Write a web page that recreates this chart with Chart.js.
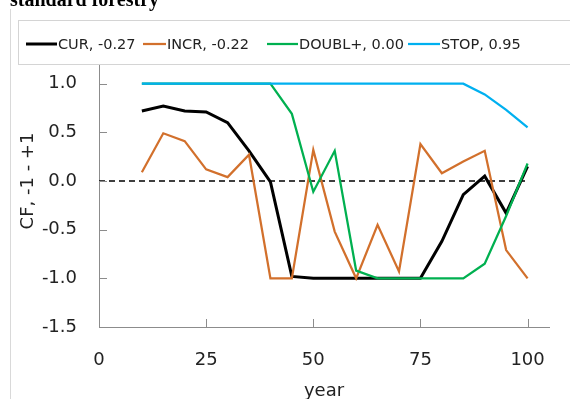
<!DOCTYPE html>
<html>
<head>
<meta charset="utf-8">
<title>standard forestry</title>
<script src="https://cdn.jsdelivr.net/npm/chart.js@4.4.1/dist/chart.umd.min.js"></script>
<style>
  html, body { margin: 0; padding: 0; background: #fff; }
  #wrap { width: 570px; height: 399px; position: relative; }
</style>
</head>
<body>
<div id="wrap"><canvas id="cf-chart" width="570" height="399"></canvas></div>
<script>
// Years on the x axis
const years = [10, 15, 20, 25, 30, 35, 40, 45, 50, 55, 60, 65, 70, 75, 80, 85, 90, 95, 100];

// CF values per scenario
const cur = [0.72, 0.77, 0.72, 0.71, 0.60, 0.31, -0.01, -0.98, -1.00, -1.00, -1.00, -1.00, -1.00, -1.00, -0.62, -0.14, 0.05, -0.33, 0.15];
const incr = [0.09, 0.49, 0.41, 0.12, 0.04, 0.27, -1.00, -1.00, 0.32, -0.52, -1.00, -0.45, -0.93, 0.38, 0.08, 0.20, 0.31, -0.71, -1.00];
const doubl = [1.00, 1.00, 1.00, 1.00, 1.00, 1.00, 1.00, 0.69, -0.11, 0.31, -0.92, -1.00, -1.00, -1.00, -1.00, -1.00, -0.85, -0.36, 0.18];
const stop = [1.00, 1.00, 1.00, 1.00, 1.00, 1.00, 1.00, 1.00, 1.00, 1.00, 1.00, 1.00, 1.00, 1.00, 1.00, 1.00, 0.89, 0.73, 0.55];

// Dashed zero reference line
const zeroX = [0, 100];
const zeroY = [0, 0];

// Legend texts and axis ticks
const seriesLabels = ["CUR, -0.27", "INCR, -0.22", "DOUBL+, 0.00", "STOP, 0.95"];
const xTicks = [0, 25, 50, 75, 100];
const yTicks = [-1.5, -1.0, -0.5, 0.0, 0.5, 1.0, 1.5];

const toPoints = (xs, ys) => xs.map((x, i) => ({ x: x, y: ys[i] }));

const AXIS_GRAY = "#8c8c8c";
const TEXT_COLOR = "#222222";
const TICK_FONT = { family: "'DejaVu Sans'", size: 18 };

// Inside tick marks, outer frame, header and the boxed legend
const decorPlugin = {
  id: "decor",
  beforeDraw(chart) {
    const ctx = chart.ctx;
    ctx.save();
    ctx.fillStyle = "#fff";
    ctx.fillRect(0, 0, chart.width, chart.height);
    // frame edge on the left
    ctx.strokeStyle = "#d9d9d9";
    ctx.lineWidth = 1;
    ctx.beginPath();
    ctx.moveTo(10.5, 9);
    ctx.lineTo(10.5, chart.height);
    ctx.stroke();
    ctx.restore();
  },
  afterDatasetsDraw(chart) {
    const ctx = chart.ctx;
    const xs = chart.scales.x;
    const ys = chart.scales.y;
    const area = chart.chartArea;
    ctx.save();
    ctx.strokeStyle = AXIS_GRAY;
    ctx.lineWidth = 1;
    ctx.beginPath();
    xTicks.forEach((v) => {
      if (v === xs.min) return;
      const px = Math.round(xs.getPixelForValue(v)) + 0.5;
      ctx.moveTo(px, area.bottom);
      ctx.lineTo(px, area.bottom - 8);
    });
    yTicks.forEach((v) => {
      if (v === ys.min) return;
      const py = Math.round(ys.getPixelForValue(v)) + 0.5;
      ctx.moveTo(area.left, py);
      ctx.lineTo(area.left + 8, py);
    });
    ctx.stroke();
    ctx.restore();
  },
  afterDraw(chart) {
    const ctx = chart.ctx;
    ctx.save();

    // header, mostly above the top edge
    ctx.fillStyle = "#000";
    ctx.font = "bold 20px 'Liberation Serif'";
    ctx.textBaseline = "alphabetic";
    ctx.fillText("standard forestry", 10, 6);

    // legend box
    ctx.fillStyle = "#fff";
    ctx.fillRect(18.5, 20.5, chart.width, 44);
    ctx.strokeStyle = "#d4d4d4";
    ctx.lineWidth = 1;
    ctx.strokeRect(18.5, 20.5, chart.width, 44);

    // legend entries: sample line then label
    const lineStart = [26, 143, 267, 408];
    const lineEnd = [57, 166, 298, 440];
    const cy = 44;
    ctx.font = "14.5px 'DejaVu Sans'";
    ctx.textBaseline = "middle";
    seriesLabels.forEach((label, i) => {
      const ds = chart.data.datasets[i];
      ctx.strokeStyle = ds.borderColor;
      ctx.lineWidth = ds.borderWidth;
      ctx.beginPath();
      ctx.moveTo(lineStart[i], cy);
      ctx.lineTo(lineEnd[i], cy);
      ctx.stroke();
      ctx.fillStyle = TEXT_COLOR;
      ctx.fillText(label, lineEnd[i] + 1, cy + 1);
    });
    ctx.restore();
  },
};

const ctx = document.getElementById("cf-chart");

new Chart(ctx, {
  type: "line",
  data: {
    datasets: [
      {
        label: seriesLabels[0],
        data: toPoints(years, cur),
        borderColor: "#000000",
        borderWidth: 3,
        order: 4,
      },
      {
        label: seriesLabels[1],
        data: toPoints(years, incr),
        borderColor: "#d2702c",
        borderWidth: 2.25,
        order: 3,
      },
      {
        label: seriesLabels[2],
        data: toPoints(years, doubl),
        borderColor: "#00b050",
        borderWidth: 2.25,
        order: 2,
      },
      {
        label: seriesLabels[3],
        data: toPoints(years, stop),
        borderColor: "#00b0f0",
        borderWidth: 2.25,
        order: 1,
      },
      {
        label: "zero",
        data: toPoints(zeroX, zeroY),
        borderColor: "#000000",
        borderWidth: 1.5,
        borderDash: [6, 4],
        order: 5,
      },
    ],
  },
  options: {
    responsive: false,
    animation: false,
    devicePixelRatio: 1,
    elements: {
      point: { radius: 0 },
      line: { tension: 0, fill: false },
    },
    layout: {
      padding: { left: 0, right: 21, top: 35, bottom: 0 },
    },
    plugins: {
      legend: { display: false },
      tooltip: { enabled: false },
    },
    scales: {
      x: {
        type: "linear",
        min: 0,
        max: 105,
        afterBuildTicks: (scale) => {
          scale.ticks = xTicks.map((v) => ({ value: v }));
        },
        afterFit: (scale) => {
          scale.height = 72;
        },
        grid: { display: false, drawTicks: false },
        border: { display: true, color: AXIS_GRAY, width: 1 },
        ticks: {
          color: TEXT_COLOR,
          font: TICK_FONT,
          padding: 23,
          maxRotation: 0,
          callback: (v) => String(v),
        },
        title: {
          display: true,
          text: "year",
          color: TEXT_COLOR,
          font: TICK_FONT,
          padding: { top: 0, bottom: -3 },
        },
      },
      y: {
        min: -1.5,
        max: 1.5,
        afterBuildTicks: (scale) => {
          scale.ticks = yTicks.map((v) => ({ value: v }));
        },
        afterFit: (scale) => {
          scale.width = 99;
        },
        grid: { display: false, drawTicks: false },
        border: { display: true, color: AXIS_GRAY, width: 1 },
        ticks: {
          color: TEXT_COLOR,
          font: TICK_FONT,
          padding: 22,
          callback: (v) => v.toFixed(1),
        },
        title: {
          display: true,
          text: "CF, -1 - +1",
          color: TEXT_COLOR,
          font: TICK_FONT,
          padding: { top: 18, bottom: 0 },
        },
      },
    },
  },
  plugins: [decorPlugin],
});
</script>
</body>
</html>
